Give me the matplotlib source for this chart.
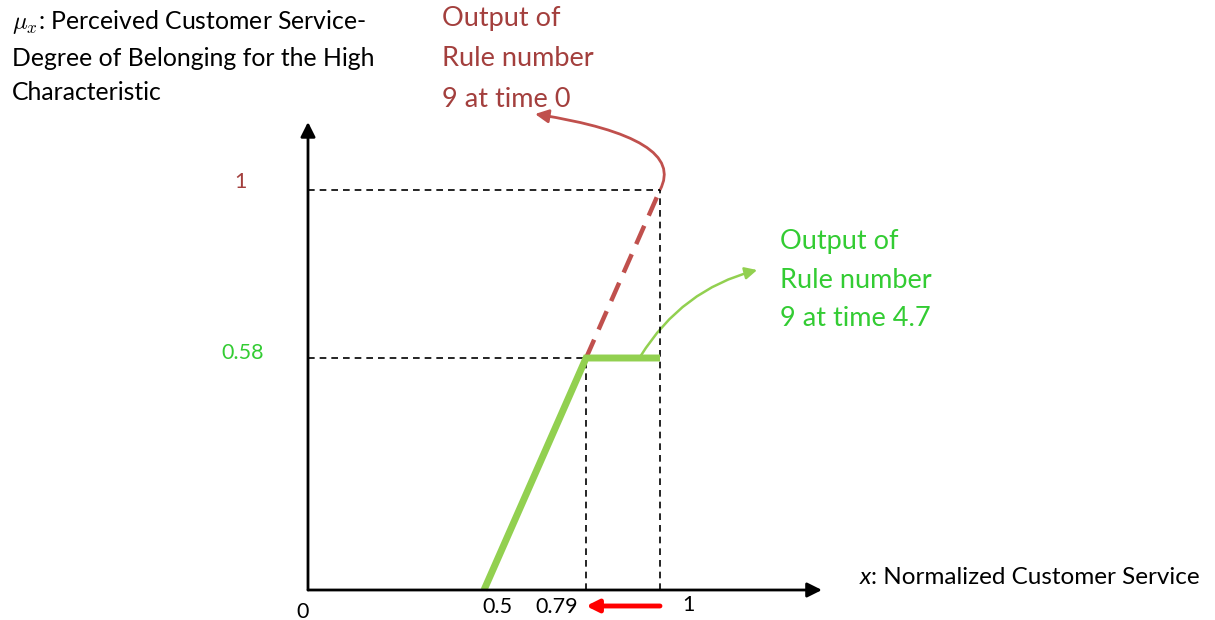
import matplotlib
matplotlib.use("Agg")
import matplotlib.pyplot as plt
from matplotlib.patches import FancyArrowPatch

plt.rcParams['font.family'] = ['Lato', 'DejaVu Sans']

# --- data (values as shown on the chart) ---
rule_t0_x = [0.79, 1.0]          # rule 9 output at time 0 (upper part, dashed)
rule_t0_y = [0.58, 1.0]
rule_t47_x = [0.5, 0.79, 1.0]    # rule 9 output at time 4.7 (clipped at 0.58)
rule_t47_y = [0.0, 0.58, 0.58]
x_ticks = [0, 0.5, 0.79, 1]
x_tick_labels = ['0', '0.5', '0.79', '1']
y_ticks = [1, 0.58]
y_tick_labels = ['1', '0.58']

BROWN_TXT = '#A33F3D'
BROWN = '#C0504D'
GREEN = '#92D050'
GREEN_TXT = '#33CC33'

W, H = 1215, 620
fig = plt.figure(figsize=(W / 100, H / 100), dpi=100)
ax = fig.add_axes([0, 0, 1, 1])
ax.axis('off')
# origin sits at pixel (308, 590); 352 px per x unit, 400 px per y unit
ax.set_xlim(-308 / 352, (W - 308) / 352)
ax.set_ylim(-(H - 590) / 400, 590 / 400)

def px(v):  # pixels -> points for offsets
    return v * 72 / 100

# axes with arrows
x_end, y_end = 1.46, 1.17
ax.annotate('', xy=(x_end, 0), xytext=(0, 0),
            arrowprops=dict(arrowstyle='-|>', color='black', lw=2,
                            mutation_scale=22, shrinkA=0, shrinkB=0))
ax.annotate('', xy=(0, y_end), xytext=(0, 0),
            arrowprops=dict(arrowstyle='-|>', color='black', lw=2,
                            mutation_scale=22, shrinkA=0, shrinkB=0))

# dashed guide lines
xv0, xv1 = rule_t47_x[1], rule_t0_x[-1]
yv0, yv1 = rule_t47_y[1], rule_t0_y[-1]
guide = dict(color='black', lw=1.2, ls=(0, (4, 3)))
ax.plot([0, xv1], [yv1, yv1], **guide)
ax.plot([xv1, xv1], [0, yv1], **guide)
ax.plot([0, xv0], [yv0, yv0], **guide)
ax.plot([xv0, xv0], [0, yv0], **guide)

# rule outputs
ax.plot(rule_t0_x, rule_t0_y, color=BROWN, lw=3.2, ls=(0, (4.5, 2.5)),
        solid_capstyle='butt', dash_capstyle='butt')
ax.plot(rule_t47_x, rule_t47_y, color=GREEN, lw=5, solid_capstyle='butt',
        solid_joinstyle='miter')

# tick labels
x_offsets = [(-5, -22), (13, -17), (-29, -17), (28, -15)]
for v, lab, (dx, dy) in zip(x_ticks, x_tick_labels, x_offsets):
    ax.annotate(lab, xy=(v, 0), xytext=(px(dx), px(dy)), textcoords='offset points',
                ha='center', va='center', fontsize=15.5, color='black')
y_offsets = [(-68, 8), (-65, 5)]
y_colors = [BROWN_TXT, GREEN_TXT]
for v, lab, (dx, dy), c in zip(y_ticks, y_tick_labels, y_offsets, y_colors):
    ax.annotate(lab, xy=(0, v), xytext=(px(dx), px(dy)), textcoords='offset points',
                ha='center', va='center', fontsize=15.5, color=c)

# red shift arrow below the x axis (shift of the crisp value 1 -> 0.79)
ax.annotate('', xy=(xv0, (H - 606) / H), xytext=(xv1, (H - 606) / H),
            xycoords=ax.get_xaxis_transform(),
            arrowprops=dict(arrowstyle='-|>', color='red', lw=3.5,
                            mutation_scale=18, shrinkA=0, shrinkB=0))

# curved arrows to the annotations
brown_arrow = FancyArrowPatch((1.0, 1.0), (0.645, 1.19),
                              connectionstyle='angle3,angleA=62,angleB=-9',
                              arrowstyle='-|>', mutation_scale=20,
                              color=BROWN, lw=2, shrinkA=0, shrinkB=0)
ax.add_patch(brown_arrow)
green_arrow = FancyArrowPatch((0.945, 0.585), (1.276, 0.80),
                              connectionstyle='arc3,rad=-0.2',
                              arrowstyle='-|>', mutation_scale=18,
                              color=GREEN, lw=1.8, shrinkA=0, shrinkB=0)
ax.add_patch(green_arrow)

# texts
fig.text(12 / W, 1 - 56 / H,
         '$\\mu_x$: Perceived Customer Service-\nDegree of Belonging for the High\nCharacteristic',
         ha='left', va='center', fontsize=17.8, linespacing=1.56, math_fontfamily='cm')
fig.text(442 / W, 1 - 59 / H, 'Output of\nRule number\n9 at time 0',
         ha='left', va='center', fontsize=19.5, linespacing=1.76, color=BROWN_TXT)
fig.text(780 / W, 1 - 280 / H, 'Output of\nRule number\n9 at time 4.7',
         ha='left', va='center', fontsize=19.5, linespacing=1.7, color=GREEN_TXT)
xl = fig.text(860 / W, 1 - 578 / H, 'x', ha='left', va='center', fontsize=17.5,
              style='italic')
ax.annotate(': Normalized Customer Service', xy=(1, 0.5), xycoords=xl,
            ha='left', va='center', fontsize=17.5)

fig.savefig('out.png', dpi=100)
